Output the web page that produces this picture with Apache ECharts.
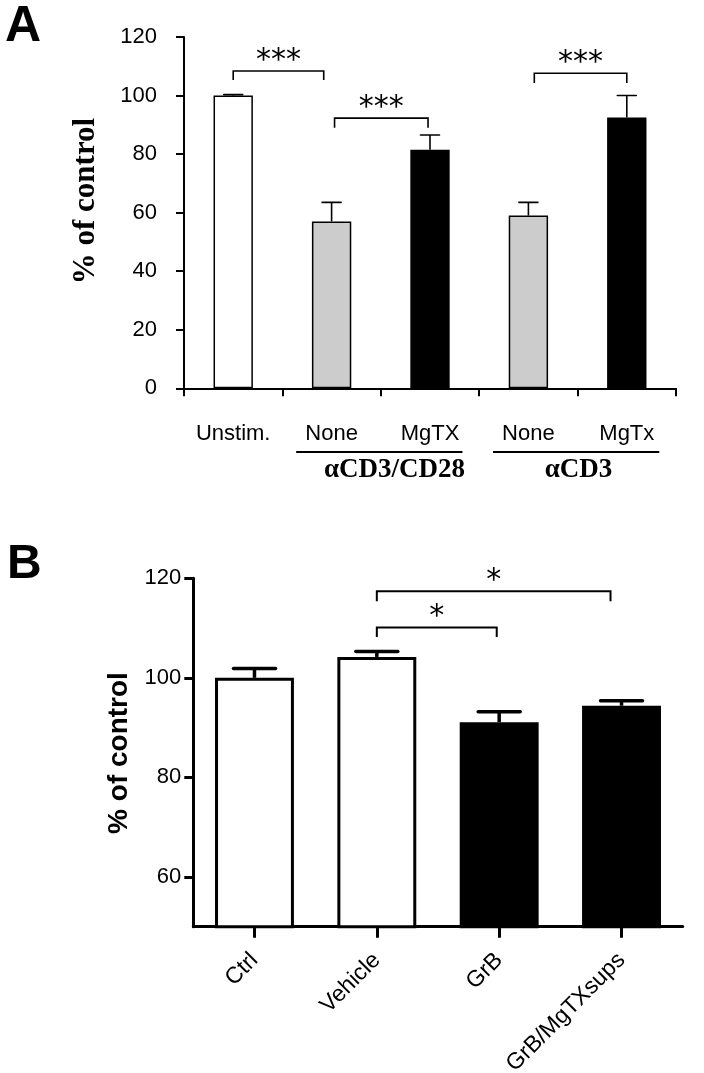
<!DOCTYPE html>
<html><head><meta charset="utf-8">
<script src="https://cdn.jsdelivr.net/npm/echarts@6/dist/echarts.min.js"></script>
<style>html,body{margin:0;padding:0;background:#fff}#c{width:704px;height:1073px}</style>
</head><body><div id="c"></div>
<script>
// ---- Panel A data ----
const catsA = ['Unstim.', 'None', 'MgTX', 'None', 'MgTx'];
const valuesA = [100, 57, 81.5, 59, 92.5];
const errTopA = [100.3, 63.5, 86.5, 63.5, 100];
const fillsA = ['#ffffff', '#cccccc', '#000000', '#cccccc', '#000000'];
// [first category, last category, label, label position (category units)]
const groupsA = [[1, 2, 'αCD3/CD28', 1.64], [3, 4, 'αCD3', 3.51]];
const bracketsA = [[0, 0.92, 108.4, 105.3, '***'], [1.03, 1.98, 92.3, 89, '***'], [3.06, 4, 107.6, 104.3, '***']];
const ticksA = [0, 20, 40, 60, 80, 100, 120];

// ---- Panel B data ----
const catsB = ['Ctrl', 'Vehicle', 'GrB', 'GrB/MgTXsups'];
const valuesB = [100, 104.2, 91.1, 94.4];
const errTopB = [101.9, 105.3, 93.2, 95.4];
const fillsB = ['#ffffff', '#ffffff', '#000000', '#000000'];
const bracketsB = [[1, 1.98, 110.1, 108.2, '*'], [1, 2.91, 117.4, 115.4, '*']];
const ticksB = [60, 80, 100, 120];

const SANS = 'Liberation Sans, Arial, Helvetica, sans-serif';
const SERIF = 'Liberation Serif, Times New Roman, serif';

function catX(api, c, v) {
  const i = Math.floor(c), f = c - i;
  const a = api.coord([i, v]);
  if (f === 0) return a;
  const b = api.coord([i + 1, v]);
  return [a[0] + (b[0] - a[0]) * f, a[1]];
}

function errRender(capW, lw) {
  return function (params, api) {
    const i = api.value(0);
    const p0 = api.coord([i, api.value(1)]);
    const p1 = api.coord([i, api.value(2)]);
    return {
      type: 'group', children: [
        { type: 'line', shape: { x1: p0[0], y1: p0[1], x2: p1[0], y2: p1[1] }, style: { stroke: '#000', lineWidth: lw } },
        { type: 'line', shape: { x1: p1[0] - capW / 2, y1: p1[1], x2: p1[0] + capW / 2, y2: p1[1] }, style: { stroke: '#000', lineWidth: lw, lineCap: 'round' } }
      ]
    };
  };
}

function bracketRender(list, lw, starDy) {
  return function (params, api) {
    const b = list[params.dataIndex];
    const L = catX(api, b[0], b[2]);
    const R = catX(api, b[1], b[2]);
    const legY = api.coord([0, b[3]])[1];
    return {
      type: 'group', children: [
        { type: 'polyline', shape: { points: [[L[0], legY], [L[0], L[1]], [R[0], R[1]], [R[0], legY]] }, style: { stroke: '#000', fill: null, lineWidth: lw } },
        { type: 'text', x: (L[0] + R[0]) / 2, y: L[1] - starDy, style: { text: b[4], fontFamily: 'DejaVu Sans', fontSize: 30, align: 'center', verticalAlign: 'middle', fill: '#000' } }
      ]
    };
  };
}

function groupRender(params, api) {
  const g = groupsA[params.dataIndex];
  const a = api.coord([g[0], 0]);
  const b = api.coord([g[1], 0]);
  const w = b[0] - a[0];
  const x1 = a[0] - 0.36 * w, x2 = b[0] + 0.33 * w;
  const tx = catX(api, g[3], 0)[0];
  return {
    type: 'group', children: [
      { type: 'line', shape: { x1: x1, y1: a[1] + 63.7, x2: x2, y2: a[1] + 63.7 }, style: { stroke: '#000', lineWidth: 2 } },
      { type: 'text', x: tx, y: a[1] + 82, style: { text: g[2], fontFamily: SERIF, fontWeight: 'bold', fontSize: 27, align: 'center', verticalAlign: 'middle', fill: '#000' } }
    ]
  };
}

const chart = echarts.init(document.getElementById('c'), null, { renderer: 'canvas' });
chart.setOption({
  animation: false,
  backgroundColor: '#ffffff',
  grid: [
    { left: 184, top: 37, width: 492, height: 351.3, containLabel: false, outerBoundsMode: 'none' },
    { left: 193.3, top: 578.3, width: 489.4, height: 348.4, containLabel: false, outerBoundsMode: 'none' }
  ],
  xAxis: [
    {
      type: 'category', gridIndex: 0, data: catsA, boundaryGap: true,
      axisLine: { lineStyle: { color: '#000', width: 2 } },
      axisTick: { show: true, interval: 0, length: 8, lineStyle: { color: '#000', width: 2 } },
      axisLabel: { interval: 0, margin: 35, color: '#000', fontFamily: SANS, fontSize: 22 },
      splitLine: { show: false }
    },
    {
      type: 'category', gridIndex: 1, data: catsB, boundaryGap: true,
      axisLine: { lineStyle: { color: '#000', width: 3 } },
      axisTick: { show: true, alignWithLabel: true, interval: 0, length: 11, lineStyle: { color: '#000', width: 3 } },
      axisLabel: { interval: 0, rotate: 45, margin: 30, color: '#000', fontFamily: SANS, fontSize: 23 },
      splitLine: { show: false }
    }
  ],
  yAxis: [
    {
      type: 'value', gridIndex: 0, min: 0, max: 120, interval: 20,
      axisLine: { show: true, lineStyle: { color: '#000', width: 2 } },
      axisTick: { show: true, length: 8, lineStyle: { color: '#000', width: 2 } },
      axisLabel: { margin: 27, color: '#000', fontFamily: SANS, fontSize: 22, customValues: ticksA },
      splitLine: { show: false }
    },
    {
      type: 'value', gridIndex: 1, min: 50, max: 120, interval: 10,
      axisLine: { show: true, lineStyle: { color: '#000', width: 3 } },
      axisTick: { show: true, length: 9, lineStyle: { color: '#000', width: 3 }, customValues: ticksB },
      axisLabel: { margin: 12, color: '#000', fontFamily: SANS, fontSize: 22, customValues: ticksB },
      splitLine: { show: false }
    }
  ],
  series: [
    {
      type: 'bar', xAxisIndex: 0, yAxisIndex: 0, barWidth: '40%',
      data: valuesA.map((v, i) => ({ value: v, itemStyle: { color: fillsA[i], borderColor: '#000', borderWidth: 1.5 } }))
    },
    {
      type: 'custom', xAxisIndex: 0, yAxisIndex: 0, z: 5,
      renderItem: errRender(19, 1.6),
      data: valuesA.map((v, i) => [i, v, errTopA[i]])
    },
    {
      type: 'custom', xAxisIndex: 0, yAxisIndex: 0, z: 5, clip: false,
      renderItem: bracketRender(bracketsA, 1.6, 10),
      data: bracketsA.map(b => [Math.round(b[0]), b[2]])
    },
    {
      type: 'custom', xAxisIndex: 0, yAxisIndex: 0, z: 5, clip: false,
      renderItem: groupRender,
      data: groupsA.map(g => [g[0], 0])
    },
    {
      type: 'bar', xAxisIndex: 1, yAxisIndex: 1, barWidth: '64.5%',
      data: valuesB.map((v, i) => ({ value: v, itemStyle: { color: fillsB[i], borderColor: '#000', borderWidth: 3 } }))
    },
    {
      type: 'custom', xAxisIndex: 1, yAxisIndex: 1, z: 5,
      renderItem: errRender(42, 3.5),
      data: valuesB.map((v, i) => [i, v, errTopB[i]])
    },
    {
      type: 'custom', xAxisIndex: 1, yAxisIndex: 1, z: 5, clip: false,
      renderItem: bracketRender(bracketsB, 2, 10),
      data: bracketsB.map(b => [Math.round(b[0]), b[2]])
    }
  ],
  graphic: [
    { type: 'text', left: 5, top: 2, style: { text: 'A', fontFamily: SANS, fontWeight: 'bold', fontSize: 50, fill: '#000' } },
    { type: 'text', left: 7, top: 541, style: { text: 'B', fontFamily: SANS, fontWeight: 'bold', fontSize: 48, fill: '#000' } },
    { type: 'text', x: 86, y: 201, rotation: Math.PI / 2, style: { text: '% of control', fontFamily: SERIF, fontWeight: 'bold', fontSize: 31, align: 'center', verticalAlign: 'middle', fill: '#000' } },
    { type: 'text', x: 119, y: 753, rotation: Math.PI / 2, style: { text: '% of control', fontFamily: SANS, fontWeight: 'bold', fontSize: 28, align: 'center', verticalAlign: 'middle', fill: '#000' } }
  ]
});
</script>
</body></html>
